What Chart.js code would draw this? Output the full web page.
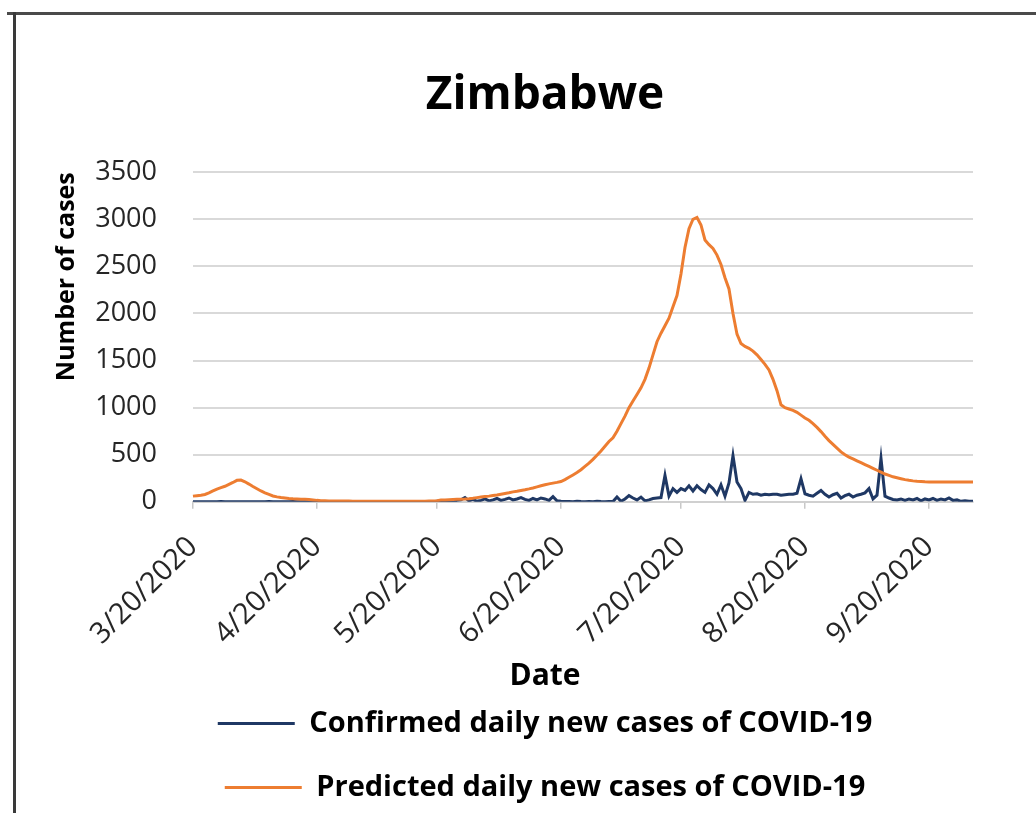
<!DOCTYPE html>
<html>
<head>
<meta charset="utf-8">
<script src="https://cdn.jsdelivr.net/npm/chart.js@4"></script>
<style>
html, body { margin: 0; padding: 0; background: #fff; overflow: hidden; width: 1036px; height: 813px; }
#topline { position: absolute; left: 7px; top: 12px; width: 1100px; height: 0; border-top: 3px solid #4a4a4a; }
#leftline { position: absolute; left: 13px; top: 12px; width: 0; height: 900px; border-left: 3px solid #3a3a3a; }
#wrap { position: absolute; left: 20px; top: 16px; width: 1050px; height: 796px; }
</style>
</head>
<body>
<div id="topline"></div>
<div id="leftline"></div>
<div id="wrap"><canvas id="c" width="1050" height="796"></canvas></div>
<script>
// Daily values, 3/20/2020 .. 10/1/2020
const CONFIRMED = [
  1, 0, 0, 0, 1, 0, 0, 2, 0, 0,
  1, 0, 0, 0, 1, 0, 0, 0, 0, 2,
  0, 0, 1, 0, 0, 2, 0, 0, 0, 0,
  1, 0, 0, 0, 0, 0, 0, 0, 1, 0,
  0, 0, 0, 0, 0, 0, 0, 0, 0, 0,
  0, 0, 0, 2, 0, 0, 0, 0, 0, 0,
  0, 5, 0, 10, 5, 3, 15, 20, 45, 10,
  25, 5, 15, 30, 10, 20, 35, 15, 25, 40,
  20, 30, 45, 25, 15, 35, 20, 40, 30, 15,
  55, 10, 5, 3, 2, 0, 5, 2, 0, 3,
  0, 5, 2, 0, 3, 2, 50, 5, 30, 65,
  40, 20, 50, 10, 20, 35, 40, 45, 280, 60,
  140, 100, 140, 120, 170, 115, 170, 130, 100, 180,
  140, 80, 180, 60, 200, 490, 210, 140, 15, 100,
  80, 85, 70, 80, 75, 80, 80, 70, 75, 80,
  80, 90, 245, 85, 70, 60, 90, 120, 80, 50,
  75, 90, 40, 65, 80, 50, 70, 80, 95, 140,
  30, 70, 460, 60, 40, 25, 20, 30, 15, 30,
  20, 35, 10, 30, 20, 35, 15, 30, 20, 40,
  15, 20, 5, 10, 5, 5
];
const PREDICTED = [
  60, 65, 70, 78, 95, 115, 135, 150, 165, 185,
  205, 228, 230, 212, 188, 162, 138, 115, 95, 78,
  62, 52, 45, 40, 35, 32, 30, 28, 26, 24,
  20, 15, 12, 10, 8, 8, 8, 7, 7, 7,
  6, 6, 6, 6, 5, 5, 5, 5, 5, 5,
  5, 5, 5, 5, 5, 5, 6, 6, 6, 7,
  8, 12, 18, 20, 22, 24, 26, 28, 30, 33,
  38, 44, 50, 55, 60, 66, 72, 80, 88, 96,
  105, 112, 120, 128, 137, 147, 158, 170, 180, 190,
  198, 206, 215, 235, 260, 285, 310, 340, 375, 410,
  450, 495, 540, 590, 640, 680, 750, 830, 910, 1000,
  1070, 1140, 1210, 1300, 1420, 1560, 1700, 1790, 1870, 1950,
  2070, 2190, 2420, 2700, 2900, 3000, 3020, 2940, 2780, 2730,
  2690, 2620, 2520, 2380, 2260, 2000, 1780, 1680, 1650, 1630,
  1600, 1560, 1510, 1460, 1400, 1300, 1180, 1030, 1000, 985,
  970, 950, 920, 890, 865, 830, 790, 745, 695, 650,
  610, 570, 530, 500, 475, 455, 435, 415, 395, 375,
  355, 335, 315, 295, 280, 265, 255, 245, 235, 228,
  222, 218, 215, 212, 210, 210, 210, 210, 210, 210,
  210, 210, 210, 210, 210, 210
];
const TICK_LABELS = ['3/20/2020', '4/20/2020', '5/20/2020', '6/20/2020', '7/20/2020', '8/20/2020', '9/20/2020'];
const Y_MIN = 0, Y_MAX = 3500, Y_STEP = 500;
const SERIES_NAMES = ['Confirmed daily new cases of COVID-19', 'Predicted daily new cases of COVID-19'];

// category labels: one per day starting 3/20/2020
const DATES = PREDICTED.map(function (_, i) {
  const d = new Date(2020, 2, 20 + i);
  return (d.getMonth() + 1) + '/' + d.getDate() + '/' + d.getFullYear();
});

const FONT = 'Open Sans';
new Chart(document.getElementById('c'), {
  type: 'line',
  data: {
    labels: DATES,
    datasets: [
      { label: SERIES_NAMES[0], data: CONFIRMED, borderColor: '#1F3864', backgroundColor: '#1F3864',
        borderWidth: 3, pointRadius: 0, pointHoverRadius: 0, tension: 0, pointStyle: 'line', order: 2 },
      { label: SERIES_NAMES[1], data: PREDICTED, borderColor: '#ED7D31', backgroundColor: '#ED7D31',
        borderWidth: 3, pointRadius: 0, pointHoverRadius: 0, tension: 0, pointStyle: 'line', order: 1 }
    ]
  },
  options: {
    responsive: false,
    animation: false,
    layout: { padding: { left: 72, right: 72, top: 0, bottom: 0 } },
    plugins: {
      title: { display: true, text: 'Zimbabwe', color: '#000',
        font: { family: FONT, size: 46, weight: 'bold' }, padding: { top: 52, bottom: 49 } },
      // horizontal-axis title, placed between the axis labels and the legend
      subtitle: { display: true, position: 'bottom', weight: 500, text: 'Date', color: '#000',
        font: { family: FONT, size: 30, weight: 'bold' }, padding: { top: -14, bottom: -20.5 } },
      legend: { position: 'bottom', align: 'center',
        labels: { usePointStyle: true, pointStyle: 'line', pointStyleWidth: 77, padding: 35, color: '#000',
          font: { family: FONT, size: 29, weight: 'bold' },
          sort: function (a, b) { return a.datasetIndex - b.datasetIndex; } } },
      tooltip: { enabled: false }
    },
    scales: {
      x: {
        type: 'category',
        offset: false,
        grid: { display: true, drawOnChartArea: false, drawTicks: true, tickLength: 7, color: '#c8c8c8', lineWidth: 1.5 },
        border: { display: true, color: '#d0d0d0', width: 2 },
        ticks: { autoSkip: false, maxRotation: 45, minRotation: 45, padding: 21, color: '#262626',
          font: { family: FONT, size: 29 },
          callback: function (v) { const l = this.getLabelForValue(v); return TICK_LABELS.indexOf(l) >= 0 ? l : null; } },
        title: { display: false }
      },
      y: {
        min: Y_MIN, max: Y_MAX,
        ticks: { stepSize: Y_STEP, padding: 36, color: '#262626', font: { family: FONT, size: 27 },
          callback: function (v) { return String(v); } },
        grid: { color: '#d9d9d9', lineWidth: 2, drawTicks: false },
        border: { display: false },
        title: { display: true, text: 'Number of cases', align: 'end', color: '#000',
          font: { family: FONT, size: 25, weight: 'bold' }, padding: { top: -40, bottom: -22.8 } }
      },
      // empty right-hand spacer so the chart area ends where the reference's does
      spacer: {
        type: 'linear', position: 'right', display: true,
        grid: { display: false }, border: { display: false }, ticks: { display: false },
        afterFit: function (scale) { scale.width = 25; }
      }
    }
  }
});
</script>
</body>
</html>
